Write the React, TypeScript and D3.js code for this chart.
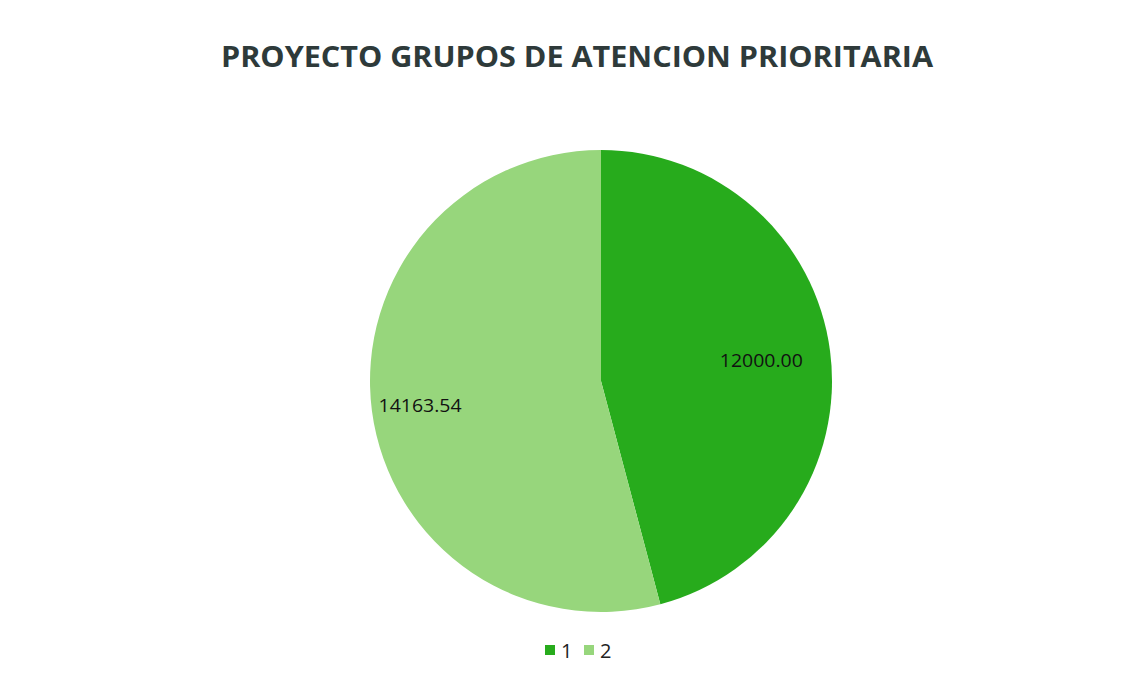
import * as d3 from 'd3'

const categories = ['1', '2']
const values = [12000.0, 14163.54]
const labels = ['12000.00', '14163.54']
const colors = ['#27ab1c', '#97d67c']
const title = 'PROYECTO GRUPOS DE ATENCION PRIORITARIA'

export default function App() {
  const width = 1129
  const height = 679
  const cx = 601
  const cy = 381
  const r = 231

  const pie = d3.pie<number>().sort(null).value(d => d)
  const arcs = pie(values)
  const arc = d3.arc<d3.PieArcDatum<number>>().innerRadius(0).outerRadius(r)
  const labelFactor = [0.7, 0.79]

  return (
    <svg
      width={width}
      height={height}
      style={{ position: 'absolute', left: 0, top: 0, background: '#fff' }}
      fontFamily="'Open Sans', 'Noto Sans', sans-serif"
    >
      <rect x={0} y={0} width={width} height={height} fill="#fff" />
      <text
        x={577}
        y={67}
        textAnchor="middle"
        fontSize={29}
        fontWeight="bold"
        fill="#2e3a3a"
        textLength={712}
        lengthAdjust="spacingAndGlyphs"
      >
        {title}
      </text>
      <g transform={`translate(${cx},${cy})`}>
        {arcs.map((a, i) => (
          <path key={i} d={arc(a) || ''} fill={colors[i]} />
        ))}
        {arcs.map((a, i) => {
          const la = d3
            .arc<d3.PieArcDatum<number>>()
            .innerRadius(r * labelFactor[i])
            .outerRadius(r * labelFactor[i])
          const [x, y] = la.centroid(a)
          return (
            <text
              key={i}
              x={x}
              y={y}
              textAnchor="middle"
              dominantBaseline="central"
              fontSize={19}
              fill="#111"
              textLength={83}
              lengthAdjust="spacingAndGlyphs"
            >
              {labels[i]}
            </text>
          )
        })}
      </g>
      <g transform="translate(545,650)">
        {categories.map((c, i) => (
          <g key={c} transform={`translate(${i * 39},0)`}>
            <rect x={0} y={-5} width={10} height={10} fill={colors[i]} />
            <text x={16} y={0} dominantBaseline="central" fontSize={20} fill="#222">
              {c}
            </text>
          </g>
        ))}
      </g>
    </svg>
  )
}
